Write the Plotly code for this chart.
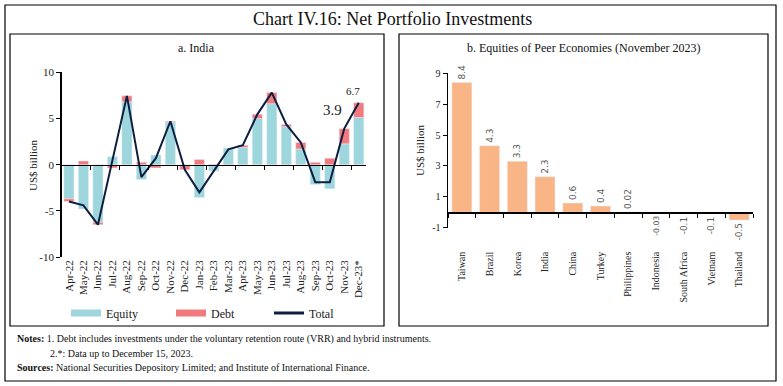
import plotly.graph_objects as go

W, H = 783, 386

# ---------------- data ----------------
months = ["Apr-22", "May-22", "Jun-22", "Jul-22", "Aug-22", "Sep-22", "Oct-22", "Nov-22",
          "Dec-22", "Jan-23", "Feb-23", "Mar-23", "Apr-23", "May-23", "Jun-23", "Jul-23",
          "Aug-23", "Sep-23", "Oct-23", "Nov-23", "Dec-23*"]
equity = [-3.7, -4.8, -6.25, 0.85, 6.8, -1.6, 1.05, 4.6, -0.1, -3.55, -0.7, 1.8, 1.85, 5.0,
          6.6, 4.1, 1.7, -2.15, -2.6, 2.25, 5.1]
debt = [-0.3, 0.4, -0.25, -0.35, 0.65, 0.25, -0.35, 0.1, -0.45, 0.55, 0.05, -0.15, 0.25, 0.45,
        1.2, 0.25, 0.7, 0.25, 0.7, 1.65, 1.6]
total = [-4.0, -4.4, -6.5, 0.5, 7.45, -1.35, 0.7, 4.7, -0.55, -3.0, -0.65, 1.65, 2.1, 5.45,
         7.8, 4.35, 2.4, -1.9, -1.9, 3.9, 6.7]

peers = ["Taiwan", "Brazil", "Korea", "India", "China", "Turkey", "Philippines",
         "Indonesia", "South Africa", "Vietnam", "Thailand"]
peer_vals = [8.4, 4.3, 3.3, 2.3, 0.6, 0.4, 0.02, -0.03, -0.1, -0.1, -0.5]
peer_labels = ["8.4", "4.3", "3.3", "2.3", "0.6", "0.4", "0.02", "-0.03", "-0.1", "-0.1", "-0.5"]

left_yticks = [-10, -5, 0, 5, 10]
right_yticks = [-1, 1, 3, 5, 7, 9]

# ---------------- helpers ----------------
def px(x):
    return x / W

def py(y):
    return 1 - y / H

SERIF = "Liberation Serif"
SANS = "DejaVu Sans"
EQ_C = "#9DD6DC"
DEBT_C = "#F07A7E"
TOT_C = "#0E1E40"
PEER_C = "#F9B585"

L_X = [px(61.7), px(366)]
L_Y = [py(257), py(72.3)]
L_R = [-10, 10]
R_X = [px(448), px(753)]
R_Y = [py(227.7), py(73.3)]
R_R = [-1, 9]

def zero_pos(dom, rng):
    return dom[0] + (0 - rng[0]) / (rng[1] - rng[0]) * (dom[1] - dom[0])

fig = go.Figure()

fig.add_trace(go.Bar(x=months, y=equity, name="Equity", marker_color=EQ_C,
                     showlegend=False, xaxis="x", yaxis="y"))
fig.add_trace(go.Bar(x=months, y=debt, name="Debt", marker_color=DEBT_C,
                     showlegend=False, xaxis="x", yaxis="y"))
fig.add_trace(go.Scatter(x=months, y=total, mode="lines", name="Total",
                         line=dict(color=TOT_C, width=2), showlegend=False,
                         xaxis="x3", yaxis="y"))
# legend entries (one legend per item for exact placement)
fig.add_trace(go.Scatter(x=[None], y=[None], mode="lines", name="Equity",
                         line=dict(color=EQ_C, width=7), xaxis="x", yaxis="y",
                         legend="legend"))
fig.add_trace(go.Scatter(x=[None], y=[None], mode="lines", name="Debt",
                         line=dict(color=DEBT_C, width=7), xaxis="x", yaxis="y",
                         legend="legend2"))
fig.add_trace(go.Scatter(x=[None], y=[None], mode="lines", name="Total",
                         line=dict(color=TOT_C, width=3), xaxis="x", yaxis="y",
                         legend="legend3"))

fig.add_trace(go.Bar(x=peers, y=[None] * len(peers), showlegend=False,
                     xaxis="x2", yaxis="y2", hoverinfo="skip"))
fig.add_trace(go.Bar(x=peers, y=peer_vals, text=peer_labels, textposition="outside",
                     textangle=-90, cliponaxis=False,
                     textfont=dict(family=SANS, size=9, color="#595959"),
                     marker_color=PEER_C, showlegend=False, xaxis="x4", yaxis="y2",
                     width=0.72))

axis_font = dict(family=SERIF, size=11, color="#222222")
leg_font = dict(family=SERIF, size=12, color="#222222")

def leg(xp):
    return dict(orientation="h", x=px(xp), y=py(313), xanchor="left", yanchor="middle",
                font=leg_font, bgcolor="rgba(0,0,0,0)", itemclick=False,
                itemdoubleclick=False)

fig.update_layout(
    width=W, height=H, autosize=False,
    margin=dict(l=0, r=0, t=0, b=0),
    paper_bgcolor="white", plot_bgcolor="rgba(0,0,0,0)",
    barmode="relative", bargap=0.3,
    showlegend=True,
    legend=leg(66), legend2=leg(171), legend3=leg(269),
    xaxis=dict(domain=L_X, anchor="y", type="category", tickangle=-90,
               showline=False, ticks="", tickfont=axis_font, showgrid=False,
               zeroline=False, automargin=False),
    xaxis3=dict(overlaying="x", matches="x", anchor="free",
                position=zero_pos(L_Y, L_R), type="category",
                showline=True, linecolor="black", linewidth=1.5,
                ticks="outside", ticklen=4, tickcolor="black", tickson="boundaries",
                showticklabels=False, showgrid=False, zeroline=False),
    yaxis=dict(domain=L_Y, anchor="x", range=L_R, tickvals=left_yticks,
               ticktext=[str(v) for v in left_yticks],
               showline=True, linecolor="black", linewidth=1.5, ticks="outside",
               ticklen=4, tickcolor="black", tickfont=axis_font, showgrid=False,
               zeroline=False, automargin=False),
    xaxis2=dict(domain=R_X, anchor="y2", type="category", tickangle=-90,
                showline=False, ticks="", tickfont=dict(family=SERIF, size=10, color="#222222"),
                showgrid=False, zeroline=False, ticklabelstandoff=21, automargin=False),
    xaxis4=dict(overlaying="x2", matches="x2", anchor="free",
                position=zero_pos(R_Y, R_R), type="category",
                showline=True, linecolor="black", linewidth=1.5,
                ticks="outside", ticklen=4, tickcolor="black", tickson="boundaries",
                showticklabels=False, showgrid=False, zeroline=False),
    yaxis2=dict(domain=R_Y, anchor="x2", range=R_R, tickvals=right_yticks,
                ticktext=[str(v) for v in right_yticks],
                showline=True, linecolor="black", linewidth=1.5, ticks="outside",
                ticklen=4, tickcolor="black",
                tickfont=dict(family=SERIF, size=10, color="#222222"),
                showgrid=False, zeroline=False, automargin=False),
)

shapes = []
shapes.append(dict(type="rect", xref="paper", yref="paper", x0=px(5), x1=px(776),
                   y0=py(381), y1=py(5), line=dict(color="black", width=1.2)))
shapes.append(dict(type="rect", xref="paper", yref="paper", x0=px(10), x1=px(384),
                   y0=py(326), y1=py(34), line=dict(color="black", width=1.2)))
shapes.append(dict(type="rect", xref="paper", yref="paper", x0=px(399), x1=px(768),
                   y0=py(326), y1=py(34), line=dict(color="black", width=1.2)))
fig.update_layout(shapes=shapes)

def pann(text, x, y, font, xanchor="center", angle=0):
    return dict(text=text, x=px(x), y=py(y), xref="paper", yref="paper",
                xanchor=xanchor, yanchor="middle", showarrow=False,
                textangle=angle, font=font)

ann = []
ann.append(pann("Chart IV.16: Net Portfolio Investments", 392, 19,
                dict(family=SERIF, size=18, color="#111111")))
ann.append(pann("a. India", 197, 48, dict(family=SERIF, size=12, color="#111111")))
ann.append(pann("b. Equities of Peer Economies (November 2023)", 584, 48,
                dict(family=SERIF, size=12, color="#111111")))
ann.append(pann("US$ billion", 33, 165, axis_font, angle=-90))
ann.append(pann("US$ billion", 420, 150, axis_font, angle=-90))
ann.append(dict(text=f"{total[-2]}", x=months[-2], y=total[-2], xref="x", yref="y",
                showarrow=False, xanchor="center", yanchor="bottom", xshift=-12, yshift=9,
                font=dict(family=SERIF, size=15, color="#222222")))
ann.append(dict(text=f"{total[-1]}", x=months[-1], y=total[-1], xref="x", yref="y",
                showarrow=False, xanchor="center", yanchor="bottom", xshift=-6, yshift=4,
                font=dict(family=SERIF, size=11, color="#222222")))
note_font = dict(family=SERIF, size=10, color="#111111")
ann.append(pann("<b>Notes:</b> 1. Debt includes investments under the voluntary retention route (VRR) and hybrid instruments.",
                15, 339, note_font, xanchor="left"))
ann.append(pann("2.*: Data up to December 15, 2023.", 48, 353, note_font, xanchor="left"))
ann.append(pann("<b>Sources:</b> National Securities Depository Limited; and Institute of International Finance.",
                15, 367, note_font, xanchor="left"))
fig.update_layout(annotations=ann)

fig.write_html("out.html", config={"displayModeBar": False, "staticPlot": True},
               post_script="document.body.style.margin='0px';")
